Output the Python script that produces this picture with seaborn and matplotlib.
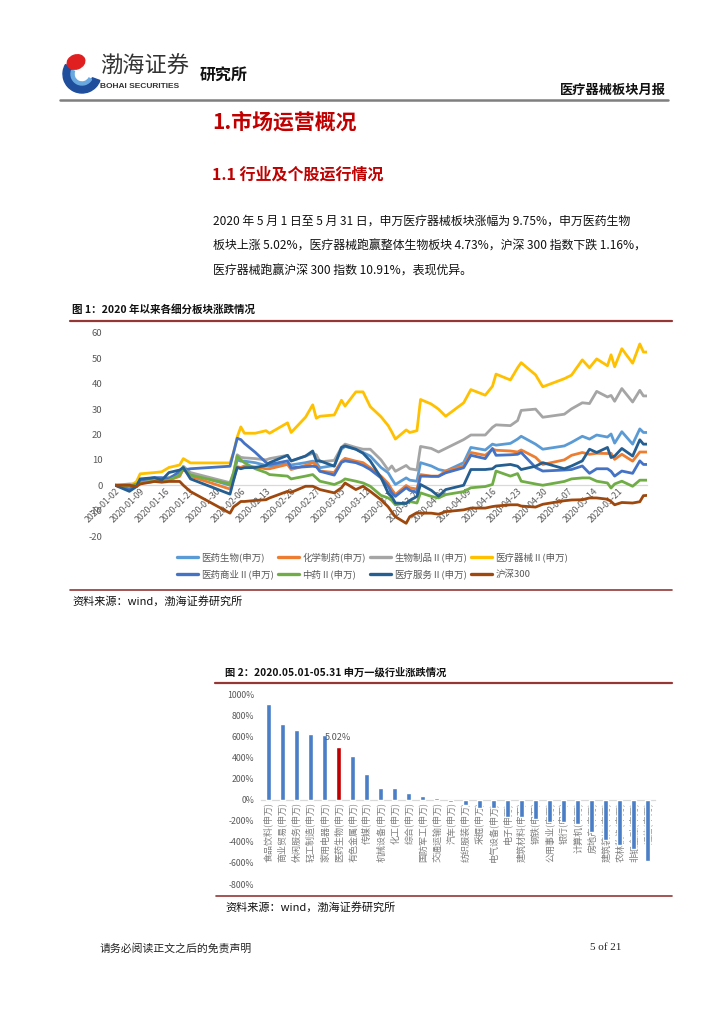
import matplotlib
matplotlib.use('Agg')
import matplotlib.pyplot as plt
import matplotlib.patches as mpatches
import matplotlib.dates as mdates
from matplotlib.lines import Line2D
import seaborn as sns
import pandas as pd
import numpy as np

sns.set_theme(style='white')
plt.rcParams['font.family'] = ['Noto Sans CJK SC', 'DejaVu Sans']
plt.rcParams['axes.unicode_minus'] = False

# ---- 图1 数据：2020 年以来各细分板块涨跌幅(%) ----
DATES = ['2020-01-02', '2020-01-06', '2020-01-08', '2020-01-09', '2020-01-13', '2020-01-15',
         '2020-01-17', '2020-01-20', '2020-01-21', '2020-01-23',
         '2020-02-03', '2020-02-04', '2020-02-05', '2020-02-06', '2020-02-07', '2020-02-10',
         '2020-02-13', '2020-02-14', '2020-02-19', '2020-02-20',
         '2020-02-24', '2020-02-26', '2020-02-27', '2020-02-28', '2020-03-03', '2020-03-05',
         '2020-03-06', '2020-03-09', '2020-03-11', '2020-03-13',
         '2020-03-16', '2020-03-18', '2020-03-19', '2020-03-20', '2020-03-23', '2020-03-24',
         '2020-03-26', '2020-03-27', '2020-03-30', '2020-04-01',
         '2020-04-03', '2020-04-08', '2020-04-10', '2020-04-14', '2020-04-16', '2020-04-17',
         '2020-04-21', '2020-04-23', '2020-04-24', '2020-04-28',
         '2020-04-30', '2020-05-06', '2020-05-08', '2020-05-11', '2020-05-13', '2020-05-15',
         '2020-05-18', '2020-05-19', '2020-05-20', '2020-05-22',
         '2020-05-25', '2020-05-27', '2020-05-28', '2020-05-29']

YYSW = [0, 0, 0.5, 1.5, 2.5, 2.5, 3, 4, 6.5, 4.5,
        0, 4, 10, 9.5, 9.5, 8.9, 7.8, 7.5, 8.5, 8,
        8.9, 9.5, 9, 6.9, 7.8, 14.2, 15.3, 14.2, 12.9, 11.5,
        7, 4.9, 2.5, 0.3, 2.9, 2, 1.6, 8.9, 7.6, 6.2,
        5.6, 8.9, 14.9, 13.9, 16.2, 15.8, 16.5, 18.2, 19.3, 16.2,
        14.2, 15.5, 16.9, 19.3, 18.2, 19.8, 19, 20.2, 16.6, 21.1,
        16.2, 22.2, 20.8, 20.8]
HXZY = [0, -0.5, 0.3, 1, 1.5, 1.5, 2, 3.5, 6.5, 3.5,
        -1.5, 2.5, 7.3, 7, 7.6, 7.2, 6.5, 6.5, 8.2, 6.2,
        7.8, 8.9, 8, 5.6, 5, 9.5, 10.6, 9.5, 8.9, 6.9,
        3.6, 0.7, -1.7, -3.7, -0.1, -1, -1.5, 4.2, 3.6, 3.6,
        5.6, 7.6, 12.9, 11.8, 14.2, 13.8, 13.5, 13.1, 13.9, 11,
        8.2, 10, 11.8, 12.9, 12.2, 12.6, 12.5, 12.6, 10.2, 12.2,
        9.5, 13.1, 13.1, 13.1]
SWZP = [0, 0.5, 0.5, 1, 2, 2.5, 3, 4.5, 7.5, 5,
        1, 5, 12, 11, 10.8, 10.5, 10, 10.5, 11.8, 9.5,
        11.5, 12.6, 12, 9.2, 9.8, 14.9, 16.2, 14.9, 14.2, 14.2,
        10, 6, 7.6, 5.5, 7.8, 6.5, 6, 15.3, 14.5, 13.1,
        14.5, 18, 19.8, 19.8, 22.8, 23.8, 23.5, 25.5, 29.5, 30,
        26.8, 28, 30.1, 32.5, 32.2, 37, 34.8, 35.4, 33.1, 38.1,
        32.8, 37.4, 35.2, 35.2]
YLQX = [0, -0.5, 1.5, 4.5, 5, 5.3, 7, 8, 10.5, 8.8,
        8.8, 13, 19, 23, 20.5, 20.5, 21.5, 20.5, 24.6, 20.8,
        26.8, 31.7, 26.4, 27.2, 27.7, 33.5, 31.2, 36.8, 36.8, 31,
        27, 23.5, 21, 18.2, 21.8, 20.8, 21.5, 33.8, 32, 30,
        27.2, 32.5, 37.7, 35.5, 39, 43.8, 41.5, 46.3, 48.3, 43.5,
        38.8, 42, 43.4, 49.4, 46.3, 49.8, 47.1, 51.4, 46.7, 53.8,
        48.1, 55.7, 52.5, 52.5]
YYSY = [0, -1.5, 0, 2, 3, 3, 2.5, 5.5, 6, 6.5,
        7.5, 13, 18.5, 18, 16.5, 13, 9, 8.2, 9.6, 6.9,
        7.3, 7.5, 7.3, 5.5, 4, 9, 9.6, 8.9, 7.8, 6.2,
        2.9, -0.5, -3, -4.4, -1, -2, -2.8, 3.6, 3.5, 3.5,
        4.9, 6.9, 11.8, 10.5, 14.5, 11.8, 12, 12.2, 12.9, 7,
        5.6, 6, 6.2, 7.6, 4.7, 6.5, 6.5, 5.5, 3.6, 5.6,
        4.7, 9.6, 8.2, 8.2]
ZY = [0, -0.3, 0.5, 1, 1.5, 1.5, 2, 4, 7, 4,
      0.5, 5, 11.5, 10, 8.9, 6.5, 5, 4.2, 3.6, 2.5,
      3.6, 4.2, 2.9, 1.6, 0.3, 1.5, 2.5, 1.6, 0.9, -0.4,
      -4, -5, -6, -7.7, -7, -6.4, -7, -3, -4.4, -5,
      -3.7, -2.5, -1, -0.5, 0.3, 5.6, 3.6, 4.6, 1.6, 0.5,
      0, 1.5, 2.5, 2.9, 2.9, 1.6, 0.9, -1.1, 0.5, 1.6,
      -0.4, 2, 2, 2]
YLFW = [0, -2.4, -0.5, 2.5, 3, 2, 5, 6, 7, 2.5,
        -3.5, 2, 7, 6.5, 6.9, 7, 7.8, 8.9, 11.8, 9.6,
        11.5, 13.5, 9.6, 9.6, 7.5, 14.9, 15.5, 14.2, 12.6, 9.6,
        3, -3.1, -4.5, -7, -7.2, -6, -4.4, 0.3, -2, -4.3,
        -1.7, 0, 6.2, 6.2, 6.5, 7.6, 8.2, 7.5, 6.2, 7.5,
        8.9, 6.5, 7.6, 9.6, 14.2, 12.9, 14.9, 10.9, 11.5, 14.5,
        11.5, 17.9, 16.2, 16.2]
HS300 = [0, 0, -0.5, 0.5, 1.5, 1.2, 1.5, 1.5, 0, -2.5,
         -11, -8.5, -7.5, -6.4, -6.4, -6, -5.7, -5, -2.4, -2.8,
         -0.4, -0.4, -1, -1.7, -3, -1, 0.9, -1.7, -0.4, -2.4,
         -5.7, -8.5, -10.5, -12.4, -15, -12.4, -10.8, -11, -11, -11.4,
         -10.4, -9.7, -9, -9, -8.4, -8.2, -7.7, -7.7, -8.2, -8.6,
         -7.5, -6.1, -5.8, -5.7, -5, -5, -5.5, -6.4, -7.7, -6.8,
         -7, -6.5, -4.1, -4]

SERIES = ['医药生物(申万)', '化学制药(申万)', '生物制品Ⅱ(申万)', '医疗器械Ⅱ(申万)',
          '医药商业Ⅱ(申万)', '中药Ⅱ(申万)', '医疗服务Ⅱ(申万)', '沪深300']
COLORS = ['#5B9BD5', '#ED7D31', '#A5A5A5', '#FFC000',
          '#4472C4', '#70AD47', '#255E91', '#9E480E']

# ---- 图2 数据：申万一级行业 5 月涨跌幅 ----
INDUSTRY = ['食品饮料', '商业贸易', '休闲服务', '轻工制造', '家用电器', '医药生物', '有色金属',
            '传媒', '机械设备', '化工', '综合', '国防军工', '交通运输', '汽车', '纺织服装',
            '采掘', '电气设备', '电子', '建筑材料', '钢铁', '公用事业', '银行', '计算机',
            '房地产', '建筑装饰', '农林牧渔', '非银金融', '通信']
CHANGE = [9.05, 7.2, 6.63, 6.18, 6.15, 5.02, 4.1,
          2.38, 1.11, 1.11, 0.6, 0.38, 0.19, -0.25, -0.47,
          -0.8, -0.8, -1.64, -1.67, -1.83, -2.15, -2.15, -2.3,
          -3.1, -3.79, -4.32, -4.64, -5.84]
HIGHLIGHT = '医药生物'

W, H = 724, 1024
RED = '#C00000'
RULE = '#953735'
GREY_TXT = '#595959'

fig = plt.figure(figsize=(W / 100, H / 100), dpi=100)
fig.patch.set_facecolor('white')

# 整页背景层，用像素坐标排版文字和分隔线
bg = fig.add_axes([0, 0, 1, 1])
bg.set_xlim(0, W)
bg.set_ylim(H, 0)
bg.axis('off')

# 页眉 logo
bg.add_patch(mpatches.Wedge((82, 74), 19, 20, 210, width=8, color='#1F4E9C'))
bg.add_patch(mpatches.Wedge((82, 74), 11, 30, 200, width=3, color='#6AA8E0'))
bg.add_patch(mpatches.Ellipse((76, 62), 18, 14, angle=-20, color='#E02020'))
bg.text(100, 66, '渤海证券', fontsize=16, color='#333333', va='center', ha='left')
bg.text(100, 86, 'BOHAI SECURITIES', fontsize=6, fontweight='bold', color='#333333',
        va='center', ha='left', family=['Liberation Sans', 'DejaVu Sans'])
bg.text(200, 75, '研究所', fontsize=11.5, fontweight='bold', color='#111111', va='center')
bg.text(666, 90, '医疗器械板块月报', fontsize=9.5, fontweight='bold', color='#111111',
        va='center', ha='right')
bg.plot([60, 668], [100, 100], color='#7F7F7F', lw=1.8)

# 标题与正文
bg.text(212, 122, '1.市场运营概况', fontsize=15, fontweight='bold', color=RED, va='center')
bg.text(212, 175, '1.1 行业及个股运行情况', fontsize=11.5, fontweight='bold', color=RED, va='center')
para = ['2020 年 5 月 1 日至 5 月 31 日，申万医疗器械板块涨幅为 9.75%，申万医药生物',
        '板块上涨 5.02%，医疗器械跑赢整体生物板块 4.73%，沪深 300 指数下跌 1.16%，',
        '医疗器械跑赢沪深 300 指数 10.91%，表现优异。']
for i, line in enumerate(para):
    bg.text(213, 221 + 25 * i, line, fontsize=8.6, color='#111111', va='center')

# 图1 标题、分隔线、来源
bg.text(72, 310, '图 1：2020 年以来各细分板块涨跌情况', fontsize=7.6, fontweight='bold',
        color='#111111', va='center')
bg.plot([70, 672], [320.5, 320.5], color=RULE, lw=1.6)
bg.plot([70, 672], [590, 590], color=RULE, lw=1.2)
bg.text(72, 601, '资料来源：wind，渤海证券研究所', fontsize=8, style='italic',
        color='#111111', va='center')

# 图2 标题、分隔线、来源
bg.text(225, 672, '图 2：2020.05.01-05.31 申万一级行业涨跌情况', fontsize=7.4,
        fontweight='bold', color='#111111', va='center')
bg.plot([215, 672], [683, 683], color=RULE, lw=1.6)
bg.plot([216, 672], [896, 896], color=RULE, lw=1.2)
bg.text(225, 907, '资料来源：wind，渤海证券研究所', fontsize=8, style='italic',
        color='#111111', va='center')

# 页脚
bg.text(100, 948, '请务必阅读正文之后的免责声明', fontsize=7.8, color='#222222', va='center')
bg.text(590, 948, '5 of 21', fontsize=8, color='#222222', va='center',
        family=['Liberation Serif', 'DejaVu Serif'])

# =========================================================
# 图1 折线图
# =========================================================
ax1 = fig.add_axes([115 / W, 1 - 536 / H, (647 - 115) / W, (536 - 333) / H])
wide = pd.DataFrame({SERIES[0]: YYSW, SERIES[1]: HXZY, SERIES[2]: SWZP, SERIES[3]: YLQX,
                     SERIES[4]: YYSY, SERIES[5]: ZY, SERIES[6]: YLFW, SERIES[7]: HS300},
                    index=pd.to_datetime(DATES))
sns.lineplot(data=wide, palette=COLORS, dashes=False, linewidth=2.0, ax=ax1, legend=False)

ax1.set_xlim(pd.Timestamp('2020-01-02'), pd.Timestamp('2020-05-29'))
ax1.set_ylim(-20, 60)
ax1.set_yticks(range(-20, 61, 10))
ticks = pd.date_range('2020-01-02', '2020-05-21', freq='7D')
ax1.set_xticks(ticks)
ax1.xaxis.set_major_formatter(mdates.DateFormatter('%Y-%m-%d'))
for s in ['top', 'right', 'left']:
    ax1.spines[s].set_visible(False)
ax1.spines['bottom'].set_position(('data', 0))
ax1.spines['bottom'].set_color('#D9D9D9')
ax1.spines['bottom'].set_linewidth(0.9)
ax1.spines['bottom'].set_zorder(0.5)
ax1.tick_params(axis='y', length=0, labelsize=6.8, labelcolor=GREY_TXT, pad=9)
ax1.tick_params(axis='x', length=0, labelsize=6.3, labelcolor=GREY_TXT, pad=1)
for lab in ax1.get_xticklabels():
    lab.set_rotation(45)
    lab.set_ha('right')
    lab.set_va('top')
    lab.set_rotation_mode('anchor')
ax1.set_xlabel('')
ax1.set_ylabel('')
ax1.patch.set_alpha(0)

# 图例（按行排列）
handles = [Line2D([0], [0], color=c, lw=2.4) for c in COLORS]
order = [0, 4, 1, 5, 2, 6, 3, 7]
leg = fig.legend([handles[i] for i in order], [SERIES[i] for i in order],
                 loc='upper left', bbox_to_anchor=(168 / W, 1 - 544 / H), ncol=4,
                 frameon=False, fontsize=6.8, handlelength=2.3, handletextpad=0.3,
                 columnspacing=0.4, labelspacing=0.75, labelcolor=GREY_TXT)

# =========================================================
# 图2 柱状图
# =========================================================
ax2 = fig.add_axes([261 / W, 1 - 884 / H, 394 / W, 190 / H])
bar_colors = [RED if n == HIGHLIGHT else '#4A7EC7' for n in INDUSTRY]
labels = [n + '(申万)' for n in INDUSTRY]
sns.barplot(x=labels, y=CHANGE, hue=labels, palette=bar_colors, legend=False,
            width=0.36, ax=ax2, saturation=1)
for p in ax2.patches:
    p.set_zorder(3)
ax2.xaxis.set_zorder(1)
ax2.set_xlim(-0.5, len(INDUSTRY) - 0.5)
ax2.set_ylim(-8, 10)
ax2.set_yticks(range(-8, 11, 2))
ax2.yaxis.set_major_formatter(plt.FuncFormatter(lambda v, _: f'{v * 100:.0f}%'))
for s in ['top', 'right', 'left']:
    ax2.spines[s].set_visible(False)
ax2.spines['bottom'].set_position(('data', 0))
ax2.spines['bottom'].set_color('#D9D9D9')
ax2.spines['bottom'].set_linewidth(0.9)
ax2.spines['bottom'].set_zorder(0.5)
ax2.tick_params(axis='y', length=0, labelsize=6.3, labelcolor=GREY_TXT, pad=5)
ax2.tick_params(axis='x', length=0, labelsize=6.5, labelcolor='#7F7F7F', pad=2)
for lab in ax2.get_xticklabels():
    lab.set_rotation(90)
ax2.set_xlabel('')
ax2.set_ylabel('')
ax2.patch.set_alpha(0)

hi = INDUSTRY.index(HIGHLIGHT)
ax2.annotate(f'{CHANGE[hi]:.2f}%', (hi, CHANGE[hi]), xytext=(0, 3),
             textcoords='offset points', ha='center', va='bottom',
             fontsize=6.6, color=GREY_TXT)

fig.savefig('out.png', dpi=100, facecolor='white')
